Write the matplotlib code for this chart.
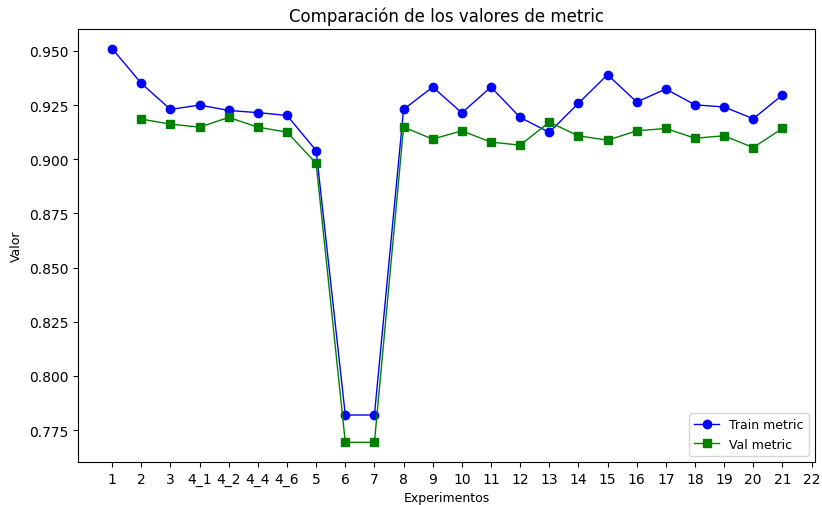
import matplotlib
matplotlib.use('Agg')
import matplotlib.pyplot as plt

# etiquetas de los experimentos (eje x)
experimentos = ['1', '2', '3', '4_1', '4_2', '4_4', '4_6', '5', '6', '7', '8', '9', '10',
                '11', '12', '13', '14', '15', '16', '17', '18', '19', '20', '21', '22']

# metric de entrenamiento, empieza en el experimento 1
train_metric = [0.951, 0.935, 0.923, 0.925, 0.9225, 0.9215, 0.9202, 0.904, 0.782, 0.782,
                0.923, 0.9333, 0.9214, 0.9333, 0.9193, 0.9124, 0.9258, 0.939, 0.9264,
                0.9324, 0.9251, 0.9241, 0.9187, 0.9296]

# metric de validacion, empieza en el experimento 2
val_metric = [0.9185, 0.9162, 0.9148, 0.9193, 0.9148, 0.9125, 0.8981, 0.7694, 0.7694,
              0.9148, 0.9093, 0.9131, 0.9079, 0.9065, 0.9171, 0.9108, 0.9088, 0.9131,
              0.9142, 0.9097, 0.9108, 0.9054, 0.9142]

fig, ax = plt.subplots(figsize=(8.22, 5.06), dpi=100)
fig.subplots_adjust(left=0.095, right=0.9915, top=0.9407, bottom=0.085)

x_train = list(range(len(train_metric)))
x_val = list(range(1, len(val_metric) + 1))

ax.plot(x_train, train_metric, color='blue', marker='o', linewidth=1, label='Train metric')
ax.plot(x_val, val_metric, color='green', marker='s', linewidth=1, label='Val metric')

ax.set_xticks(range(len(experimentos)))
ax.set_xticklabels(experimentos)
ax.set_xlim(-1.17, 24.12)

ax.set_title('Comparación de los valores de metric')
ax.set_xlabel('Experimentos', fontsize=9)
ax.set_ylabel('Valor', fontsize=9)
ax.legend(loc='lower right', fontsize=9)

plt.savefig('out.png')
